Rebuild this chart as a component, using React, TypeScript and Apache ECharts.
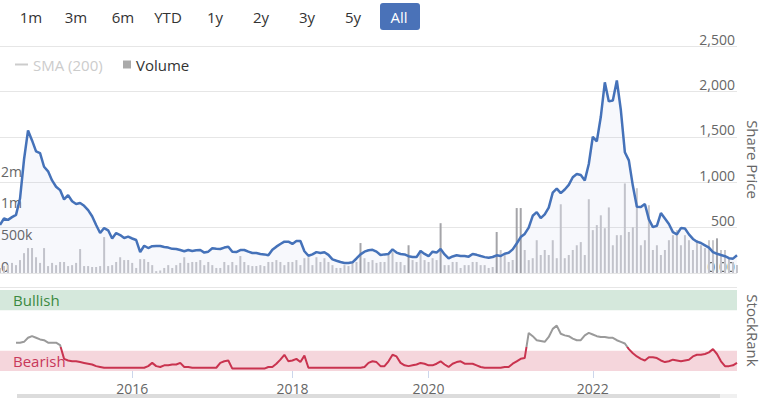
import React, { useEffect, useRef } from 'react';
import * as echarts from 'echarts';

// Share price (one point per ~2 weeks, gaps removed like the original ordinal axis)
const priceData = [
  530, 600, 585, 615, 640, 820, 1250, 1570, 1460, 1340,
  1320, 1170, 1120, 1020, 950, 913, 810, 858, 790, 760,
  770, 740, 693, 625, 528, 440, 495, 470, 380, 440,
  418, 385, 400, 380, 363, 231, 300, 275, 295, 297,
  297, 286, 280, 266, 264, 253, 240, 253, 242, 250,
  253, 225, 235, 272, 266, 264, 280, 290, 235, 231,
  253, 253, 235, 220, 220, 209, 205, 195, 255, 290,
  319, 345, 345, 320, 352, 352, 240, 190, 205, 230,
  220, 228, 200, 150, 135, 121, 110, 110, 118, 160,
  205, 235, 250, 255, 235, 198, 205, 210, 260, 225,
  209, 205, 185, 176, 176, 242, 210, 185, 235, 225,
  264, 205, 160, 182, 195, 187, 187, 180, 210, 200,
  187, 175, 168, 176, 195, 187, 212, 223, 260, 325,
  396, 430, 500, 630, 670, 605, 645, 720, 885, 930,
  880, 920, 970, 1055, 1090, 1079, 1020, 1200, 1500, 1450,
  1720, 2100, 1890, 1900, 2120, 1795, 1330, 1240, 960, 730,
  726, 760, 590, 505, 520, 660, 600, 540, 450, 425,
  495, 490, 425, 375, 345, 330, 305, 280, 230, 212,
  198, 185, 163, 158, 195,
];

// Volume in thousands
const volumeK = [
  80, 110, 125, 160, 125, 205, 315, 395, 395, 250,
  160, 395, 110, 160, 125, 175, 175, 110, 125, 160,
  380, 110, 110, 95, 95, 110, 570, 110, 125, 175,
  250, 205, 205, 160, 80, 220, 220, 175, 125, 30,
  40, 80, 125, 80, 125, 160, 250, 160, 175, 175,
  205, 125, 175, 125, 80, 80, 175, 125, 175, 125,
  270, 175, 125, 110, 110, 125, 110, 175, 175, 205,
  175, 125, 175, 175, 205, 125, 235, 250, 125, 250,
  175, 235, 175, 125, 80, 80, 125, 110, 175, 175,
  475, 235, 175, 205, 160, 175, 175, 285, 330, 175,
  175, 125, 440, 205, 175, 365, 205, 175, 235, 205,
  790, 125, 125, 175, 175, 80, 125, 125, 175, 175,
  125, 125, 80, 95, 650, 365, 285, 175, 205, 1030,
  1030, 365, 205, 235, 520, 285, 365, 285, 520, 235,
  1090, 235, 285, 365, 440, 490, 285, 1170, 680, 760,
  915, 710, 1040, 440, 600, 600, 1420, 650, 725, 1345,
  440, 520, 1075, 365, 440, 285, 365, 520, 600, 680,
  440, 600, 520, 365, 520, 440, 395, 520, 520, 550,
  365, 365, 235, 175, 125,
];
const darkVolumeIdx = [90, 102, 110, 124, 129, 130, 179];

// StockRank (0-100)
const stockRank = [
  null, null, null, null, 35, 35, 36, 41, 43, 41,
  39, 38, 35, 35, 35, 32, 15, 13, 12, 12,
  11, 10, 9, 8, 6, 5, 4, 4, 4, 4,
  4, 4, 4, 4, 4, 4, 4, 6, 10, 6,
  5, 7, 7, 8, 8, 10, 5, 5, 4, 4,
  4, 4, 4, 4, 4, 10, 12, 13, 3, 3,
  3, 3, 3, 3, 3, 3, 3, 5, 5, 9,
  14, 20, 12, 13, 15, 11, 19, 4, 4, 4,
  4, 4, 4, 4, 4, 4, 4, 4, 4, 4,
  4, 5, 10, 12, 11, 6, 6, 12, 20, 18,
  10, 7, 6, 7, 8, 10, 9, 7, 7, 9,
  12, 8, 5, 9, 11, 12, 9, 9, 9, 7,
  5, 4, 4, 4, 4, 4, 5, 5, 9, 12,
  15, 16, 47, 43, 38, 37, 36, 42, 52, 56,
  46, 44, 43, 40, 38, 38, 44, 47, 45, 43,
  42, 42, 41, 41, 38, 36, 34, 27, 22, 18,
  15, 13, 17, 17, 16, 13, 11, 12, 14, 13,
  12, 13, 14, 18, 20, 20, 21, 23, 27, 21,
  12, 6, 6, 7, 10,
];

const yearLabels = ['2016', '2018', '2020', '2022'];
const yearIndex = [33, 73, 107, 148];
const volumeTickValues = [0, 500, 1000, 1500];
const volumeTickLabels = ['0', '500k', '1m', '2m'];
const rangeButtons = ['1m', '3m', '6m', 'YTD', '1y', '2y', '3y', '5y', 'All'];
const bullishRange = [75, 100];
const bearishRange = [0, 25];
const rankThreshold = 30;

const FONT = '"Open Sans", "Noto Sans", sans-serif';

export default function App() {
  const ref = useRef<HTMLDivElement>(null);

  useEffect(() => {
    document.body.style.margin = '0';
    const chart = echarts.init(ref.current!, null, { renderer: 'svg' });
    const categories = priceData.map((_, i) => String(i));
    const firstCat = categories[0];
    const lastCat = categories[categories.length - 1];
    const btnX = [31, 76, 123, 168, 215, 261, 307, 353, 399];

    const graphics: any[] = [
      {
        type: 'rect',
        shape: { x: 380, y: 3, width: 40, height: 27, r: 3 },
        style: { fill: '#4a72b8' },
      },
      ...rangeButtons.map((t, i) => ({
        type: 'text',
        x: btnX[i],
        y: 17,
        style: {
          text: t,
          fill: i === rangeButtons.length - 1 ? '#ffffff' : '#333333',
          fontSize: 15,
          fontFamily: FONT,
          align: 'center',
          verticalAlign: 'middle',
        },
      })),
      {
        type: 'line',
        shape: { x1: 0, y1: 287.5, x2: 737, y2: 287.5 },
        style: { stroke: '#e6e6e6', lineWidth: 1 },
      },
      {
        type: 'rect',
        shape: { x: 17, y: 394, width: 703, height: 4 },
        style: { fill: '#dcdcdc' },
      },
      {
        type: 'rect',
        shape: { x: 720, y: 394, width: 17, height: 4 },
        style: { fill: '#f0f0f0' },
      },
    ];

    chart.setOption({
      animation: false,
      textStyle: { fontFamily: FONT },
      graphic: graphics,
      legend: [
        {
          data: [{ name: 'SMA (200)', icon: 'rect' }],
          left: 10,
          top: 52,
          itemWidth: 13,
          itemHeight: 2,
          inactiveColor: '#cccccc',
          selected: { 'SMA (200)': false },
          textStyle: { fontSize: 15, color: '#333', fontFamily: FONT },
        },
        {
          data: [{ name: 'Volume', icon: 'rect', itemStyle: { color: '#aaaaaa' } }],
          left: 118,
          top: 52,
          itemWidth: 8,
          itemHeight: 8,
          textStyle: { fontSize: 15, color: '#333', fontFamily: FONT },
        },
      ],
      grid: [
        { left: 0, top: 46, width: 737, height: 227, outerBoundsMode: 'none', containLabel: false },
        { left: 0, top: 290, width: 737, height: 81, outerBoundsMode: 'none', containLabel: false },
      ],
      xAxis: [
        {
          type: 'category',
          gridIndex: 0,
          data: categories,
          boundaryGap: false,
          axisLine: { show: false },
          axisTick: { show: false },
          axisLabel: { show: false },
          splitLine: { show: false },
        },
        {
          type: 'category',
          gridIndex: 1,
          data: categories,
          boundaryGap: false,
          axisLine: { show: false },
          axisTick: {
            show: true,
            interval: (i: number) => yearIndex.includes(i),
            length: 7,
            lineStyle: { color: '#ccd6eb' },
          },
          axisLabel: {
            interval: (i: number) => yearIndex.includes(i),
            formatter: (_v: string, i: number) => {
              const k = yearIndex.indexOf(i);
              return k >= 0 ? yearLabels[k] : '';
            },
            color: '#666',
            fontSize: 14,
            margin: 10,
          },
          splitLine: { show: false },
        },
      ],
      yAxis: [
        {
          gridIndex: 0,
          type: 'value',
          position: 'left',
          min: 0,
          max: 3600,
          interval: 500,
          splitLine: { show: false },
          axisLine: { show: false },
          axisTick: { show: false },
          axisLabel: {
            inside: true,
            margin: 1,
            verticalAlign: 'bottom',
            color: '#666',
            fontSize: 14,
            formatter: (v: number) => {
              const k = volumeTickValues.indexOf(v);
              return k >= 0 ? volumeTickLabels[k] : '';
            },
          },
        },
        {
          gridIndex: 0,
          type: 'value',
          position: 'right',
          min: 0,
          max: 2500,
          interval: 500,
          splitLine: { lineStyle: { color: '#e6e6e6' } },
          axisLine: { show: false },
          axisTick: { show: false },
          axisLabel: {
            inside: true,
            margin: 2,
            verticalAlign: 'bottom',
            color: '#666',
            fontSize: 14,
            formatter: (v: number) => (v === 0 ? '0.00' : v.toLocaleString('en-US')),
          },
          name: 'Share Price',
          nameLocation: 'middle',
          nameRotate: -90,
          nameGap: 6,
          nameTextStyle: { color: '#666', fontSize: 15 },
        },
        {
          gridIndex: 1,
          type: 'value',
          position: 'right',
          min: 0,
          max: 100,
          interval: 100,
          splitLine: { show: false },
          axisLine: { show: false },
          axisTick: { show: false },
          axisLabel: {
            inside: true,
            margin: 2,
            verticalAlign: 'bottom',
            color: '#666',
            fontSize: 14,
            formatter: (v: number) => (v === 0 ? '0' : ''),
          },
          name: 'StockRank',
          nameLocation: 'middle',
          nameRotate: -90,
          nameGap: 6,
          nameTextStyle: { color: '#666', fontSize: 15 },
        },
      ],
      visualMap: {
        type: 'piecewise',
        show: false,
        seriesIndex: 3,
        dimension: 1,
        pieces: [
          { gte: 0, lt: rankThreshold, color: '#c9334f' },
          { gte: rankThreshold, lte: 100, color: '#9a9a9a' },
        ],
      },
      series: [
        {
          name: 'Volume',
          type: 'bar',
          xAxisIndex: 0,
          yAxisIndex: 0,
          barWidth: 2,
          itemStyle: { color: '#c8c8cc' },
          data: volumeK.map((v, i) =>
            darkVolumeIdx.includes(i) ? { value: v, itemStyle: { color: '#a4a4a8' } } : v
          ),
          z: 1,
        },
        {
          name: 'Share Price',
          type: 'line',
          xAxisIndex: 0,
          yAxisIndex: 1,
          data: priceData,
          showSymbol: false,
          lineStyle: { color: '#4572b9', width: 2.5 },
          itemStyle: { color: '#4572b9' },
          areaStyle: { color: 'rgba(80,100,200,0.07)' },
          z: 3,
        },
        {
          name: 'SMA (200)',
          type: 'line',
          xAxisIndex: 0,
          yAxisIndex: 1,
          data: [],
          showSymbol: false,
          itemStyle: { color: '#999' },
        },
        {
          name: 'StockRank',
          type: 'line',
          xAxisIndex: 1,
          yAxisIndex: 2,
          data: stockRank,
          showSymbol: false,
          connectNulls: false,
          lineStyle: { width: 2 },
          z: 3,
          markArea: {
            silent: true,
            label: { show: true, position: 'insideLeft', distance: 13, fontSize: 15 },
            data: [
              [
                {
                  name: 'Bullish',
                  xAxis: firstCat,
                  yAxis: bullishRange[0],
                  itemStyle: { color: '#d5e8dc' },
                  label: { color: '#3b8a41' },
                },
                { xAxis: lastCat, yAxis: bullishRange[1] },
              ],
              [
                {
                  name: 'Bearish',
                  xAxis: firstCat,
                  yAxis: bearishRange[0],
                  itemStyle: { color: '#f5d6dc' },
                  label: { color: '#c8385a' },
                },
                { xAxis: lastCat, yAxis: bearishRange[1] },
              ],
            ],
          },
        },
      ],
    });

    return () => chart.dispose();
  }, []);

  return <div ref={ref} style={{ width: 762, height: 398 }} />;
}
